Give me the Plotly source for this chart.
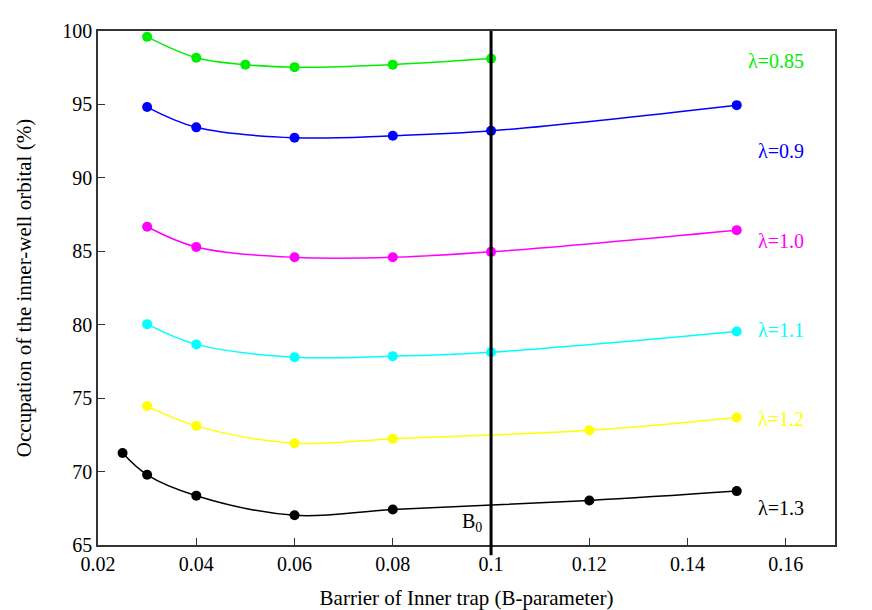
import plotly.graph_objects as go

# Occupation of the inner-well orbital (%) vs barrier B, one curve per lambda
LAMBDAS = ["0.85", "0.9", "1.0", "1.1", "1.2", "1.3"]
COLORS = ["#00ee00", "#0000ff", "#ff00ff", "#00ffff", "#ffff00", "#000000"]

B_085 = [0.03, 0.04, 0.05, 0.06, 0.08, 0.10]
OCC_085 = [99.60, 98.18, 97.71, 97.54, 97.71, 98.12]

B_09 = [0.03, 0.04, 0.06, 0.08, 0.10, 0.15]
OCC_09 = [94.82, 93.44, 92.73, 92.87, 93.20, 94.95]

B_10 = [0.03, 0.04, 0.06, 0.08, 0.10, 0.15]
OCC_10 = [86.67, 85.29, 84.59, 84.59, 84.96, 86.44]

B_11 = [0.03, 0.04, 0.06, 0.08, 0.10, 0.15]
OCC_11 = [80.04, 78.66, 77.79, 77.86, 78.13, 79.54]

B_12 = [0.03, 0.04, 0.06, 0.08, 0.12, 0.15]
OCC_12 = [74.46, 73.11, 71.93, 72.24, 72.81, 73.68]

B_13 = [0.025, 0.03, 0.04, 0.06, 0.08, 0.12, 0.15]
OCC_13 = [71.26, 69.78, 68.36, 67.02, 67.42, 68.03, 68.67]

# where each curve label sits (x, y in data units)
LABEL_X = 0.1641
LABEL_Y = [97.98, 91.86, 85.73, 79.67, 73.60, 67.50]

B0 = 0.1

FONT = "Liberation Serif"

series = [
    (B_085, OCC_085), (B_09, OCC_09), (B_10, OCC_10),
    (B_11, OCC_11), (B_12, OCC_12), (B_13, OCC_13),
]

fig = go.Figure()
for lam, color, (xs, ys), ly in zip(LAMBDAS, COLORS, series, LABEL_Y):
    fig.add_trace(go.Scatter(
        x=xs, y=ys,
        mode="lines+markers",
        line=dict(color=color, width=1.5, shape="spline", smoothing=1.0),
        marker=dict(color=color, size=10),
        name=f"λ={lam}",
        showlegend=False,
    ))
    fig.add_annotation(
        x=LABEL_X, y=ly, text=f"λ={lam}",
        showarrow=False, xanchor="right", yanchor="middle",
        font=dict(family=FONT, size=20, color=color),
    )

# B0 marker line, runs a little past the bottom axis
fig.add_shape(
    type="line", xref="x", yref="paper",
    x0=B0, x1=B0, y0=-0.02, y1=1,
    line=dict(color="black", width=3),
)
fig.add_annotation(
    x=B0, y=66.5, text="B<sub>0</sub>",
    showarrow=False, xanchor="right", xshift=-7,
    font=dict(family=FONT, size=20, color="black"),
)

axis_style = dict(
    showgrid=False, zeroline=False,
    showline=True, linecolor="#333333", linewidth=1.5, mirror=True,
    ticks="inside", ticklen=7, tickcolor="#333333", tickwidth=1.2,
    tickfont=dict(family=FONT, size=20, color="black"),
)

# page body has an 8px margin, so the plot area is placed accordingly
fig.update_layout(
    width=872, height=610,
    margin=dict(l=90, r=45, t=17, b=73),
    plot_bgcolor="white", paper_bgcolor="white",
    font=dict(family=FONT, color="black"),
    xaxis=dict(
        range=[0.02, 0.17], tickvals=[0.02, 0.04, 0.06, 0.08, 0.1, 0.12, 0.14, 0.16],
        ticktext=["0.02", "0.04", "0.06", "0.08", "0.1", "0.12", "0.14", "0.16"],
        title=dict(text="Barrier of Inner trap (B-parameter)",
                   font=dict(family=FONT, size=21), standoff=17),
        **axis_style,
    ),
    yaxis=dict(
        range=[65, 100], tickvals=[65, 70, 75, 80, 85, 90, 95, 100],
        title=dict(text="Occupation of the inner-well orbital (%)",
                   font=dict(family=FONT, size=21), standoff=25),
        **axis_style,
    ),
)

fig.write_html("out.html")
